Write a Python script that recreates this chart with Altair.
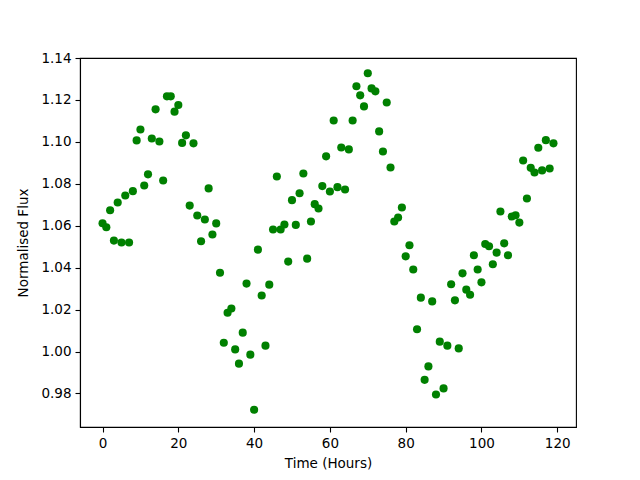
import altair as alt
import pandas as pd

hours = [0, 1, 2, 3, 4, 5, 6, 7, 8, 9,
         10, 11, 12, 13, 14, 15, 16, 17, 18, 19,
         20, 21, 22, 23, 24, 25, 26, 27, 28, 29,
         30, 31, 32, 33, 34, 35, 36, 37, 38, 39,
         40, 41, 42, 43, 44, 45, 46, 47, 48, 49,
         50, 51, 52, 53, 54, 55, 56, 57, 58, 59,
         60, 61, 62, 63, 64, 65, 66, 67, 68, 69,
         70, 71, 72, 73, 74, 75, 76, 77, 78, 79,
         80, 81, 82, 83, 84, 85, 86, 87, 88, 89,
         90, 91, 92, 93, 94, 95, 96, 97, 98, 99,
         100, 101, 102, 103, 104, 105, 106, 107, 108, 109,
         110, 111, 112, 113, 114, 115, 116, 117, 118, 119]

flux = [1.0612, 1.0593, 1.0674, 1.0529, 1.0711, 1.0520, 1.0744, 1.0520, 1.0765, 1.1007,
        1.1059, 1.0792, 1.0845, 1.1016, 1.1155, 1.1002, 1.0816, 1.1217, 1.1217, 1.1144,
        1.1176, 1.0995, 1.1031, 1.0696, 1.0993, 1.0649, 1.0526, 1.0630, 1.0778, 1.0558,
        1.0611, 1.0376, 1.0042, 1.0185, 1.0205, 1.0010, 0.9942, 1.0090, 1.0324, 0.9985,
        0.9722, 1.0486, 1.0267, 1.0028, 1.0319, 1.0582, 1.0835, 1.0582, 1.0606, 1.0429,
        1.0722, 1.0604, 1.0755, 1.0849, 1.0443, 1.0620, 1.0703, 1.0682, 1.0789, 1.0931,
        1.0763, 1.1102, 1.0784, 1.0973, 1.0773, 1.0964, 1.1102, 1.1265, 1.1222, 1.1169,
        1.1327, 1.1255, 1.1241, 1.1050, 1.0954, 1.1188, 1.0878, 1.0620, 1.0639, 1.0687,
        1.0454, 1.0507, 1.0391, 1.0106, 1.0257, 0.9865, 0.9929, 1.0239, 0.9795, 1.0047,
        0.9824, 1.0028, 1.0321, 1.0244, 1.0015, 1.0373, 1.0295, 1.0271, 1.0459, 1.0391,
        1.0330, 1.0513, 1.0502, 1.0416, 1.0472, 1.0668, 1.0516, 1.0459, 1.0644, 1.0650,
        1.0615, 1.0911, 1.0730, 1.0876, 1.0854, 1.0972, 1.0864, 1.1008, 1.0873, 1.0993]

x_ticks = [0, 20, 40, 60, 80, 100, 120]
y_ticks = [0.98, 1.00, 1.02, 1.04, 1.06, 1.08, 1.10, 1.12, 1.14]

df = pd.DataFrame({"hours": hours, "flux": flux})

FONT = "DejaVu Sans"

chart = alt.Chart(df).mark_circle(
    color="#008000", opacity=1, size=66
).encode(
    x=alt.X("hours:Q",
            scale=alt.Scale(domain=[-5.95, 124.95], nice=False, zero=False),
            axis=alt.Axis(title="Time (Hours)", values=x_ticks, format="d")),
    y=alt.Y("flux:Q",
            scale=alt.Scale(domain=[0.964, 1.140], nice=False, zero=False),
            axis=alt.Axis(title="Normalised Flux", values=y_ticks, format=".2f")),
).properties(
    width=496,
    height=369,
    autosize=alt.AutoSizeParams(type="none"),
    padding={"left": 72, "top": 50, "right": 56, "bottom": 45},
).configure_view(
    stroke="black", strokeWidth=1.1
).configure_axis(
    grid=False,
    domainColor="black",
    domainWidth=1.1,
    tickColor="black",
    tickWidth=1.1,
    tickSize=5,
    labelPadding=4,
    labelFont=FONT,
    labelFontSize=13.5,
    labelColor="black",
    titleFont=FONT,
    titleFontSize=13.5,
    titleFontWeight="normal",
    titleColor="black",
).configure_axisX(
    titlePadding=7,
).configure_axisY(
    titlePadding=10,
)

chart.save("out.html", embed_options={"renderer": "svg", "actions": False})
